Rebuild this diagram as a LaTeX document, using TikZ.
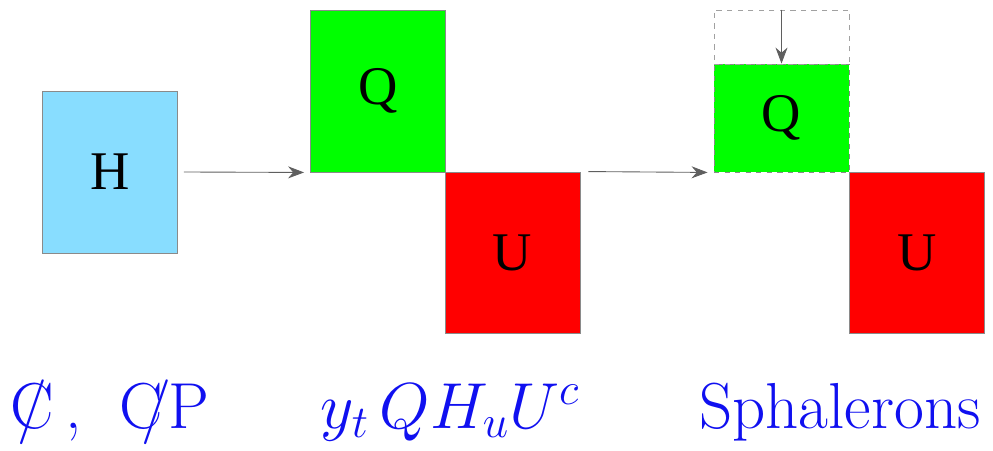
\RequirePackage{fix-cm}
\documentclass[tikz,border=0pt]{standalone}
\usepackage{fontspec}
\newfontfamily\boxfont{Liberation Serif}
\usetikzlibrary{arrows.meta,positioning}
\definecolor{higgs}{HTML}{88DDFF}
\definecolor{quark}{HTML}{00FF00}
\definecolor{upq}{HTML}{FF0000}
\definecolor{edge}{HTML}{8A8A8A}
\definecolor{ink}{HTML}{1A1A1A}
\definecolor{lbl}{HTML}{1010F0}
\newcommand{\crossC}{\ooalign{C\cr\hidewidth/\hidewidth\cr}}
\tikzset{
  field/.style={draw=edge, line width=0.5pt, inner sep=0pt, text=black,
    font=\boxfont\fontsize{31}{36}\selectfont, minimum width=2.7cm},
  ghost/.style={draw=edge!80, dashed, line width=0.5pt, inner sep=0pt, minimum width=2.7cm},
  arrow/.style={-{Stealth[length=3.2mm, width=2.4mm]}, draw=ink!70, line width=0.5pt},
  caption/.style={text=lbl, font=\fontsize{37}{44}\selectfont, inner sep=0pt, anchor=base},
}
\begin{document}
\begin{tikzpicture}
\useasboundingbox (0,0) rectangle (19.86,9);
% --- fields (absolute coordinates, cm)
\node[field, fill=higgs, minimum height=3.24cm] (H) at (2.2,5.56) {H};
\node[field, fill=quark, minimum height=3.24cm] (Q) at (7.56,7.18) {Q};
\node[field, fill=upq, minimum height=3.22cm] (U) at (10.25,3.95) {U};
\node[field, fill=quark, dashed, minimum height=2.16cm] (Qs) at (15.63,6.64) {Q};
\node[ghost, minimum height=1.08cm] (Qold) at (15.63,8.26) {};
\node[field, fill=upq, minimum height=3.22cm] (Us) at (18.34,3.95) {U};
% --- arrows
\draw[arrow] ([xshift=1.2mm]H.east) -- ([xshift=-1.2mm]Q.south west);
\draw[arrow] ([xshift=1.6mm]U.north east) -- ([xshift=-1.2mm]Qs.south west);
\draw[arrow] (Qold.north) -- (Qs.north);
% --- captions
\node[caption] (cp) at (2.2,0.44) {\crossC\,,\; C\kern-0.32em/\kern-0.05em P};
\node[caption] (yuk) at (9.0,0.44) {$y_t\,Q H_u U^c$};
\node[caption] (sph) at (16.8,0.44) {Sphalerons};
\end{tikzpicture}
\end{document}
